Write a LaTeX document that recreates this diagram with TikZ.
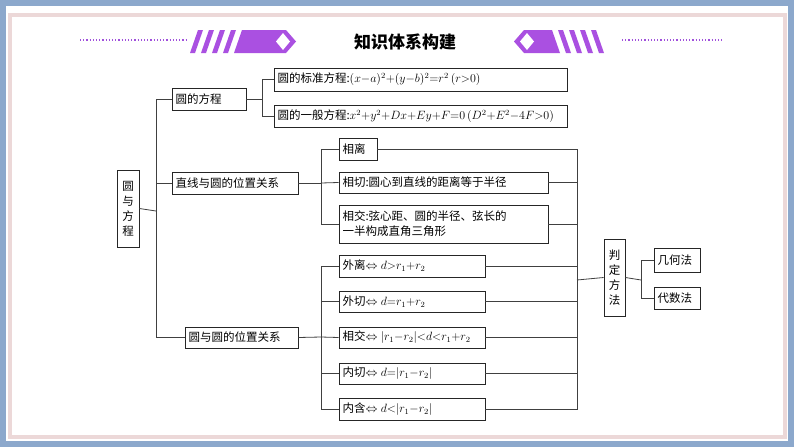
\documentclass[tikz,border=0pt]{standalone}
\usepackage{fontspec}
\newfontfamily\cjk{Noto Sans CJK SC}
\definecolor{pur}{RGB}{170,80,225}
\definecolor{purd}{RGB}{160,80,220}
\definecolor{frameblue}{RGB}{140,168,204}
\definecolor{framepink}{RGB}{236,216,216}
\begin{document}
\begin{tikzpicture}[x=1pt,y=-1pt,
  box/.style={draw=black!85,line width=0.8pt,inner sep=0pt,font=\cjk\fontsize{11.5}{15}\selectfont,align=left},
  ln/.style={draw=black!75,line width=0.8pt}]
\useasboundingbox (0,0) rectangle (794,447);
\fill[white] (0,0) rectangle (794,447);
\draw[line width=6pt,draw=frameblue] (3,3) rectangle (791,444);
\draw[line width=4pt,draw=framepink] (10,15) rectangle (785,437);
\newcommand\mybox[6]{\node[box,minimum width={(#4-#2)*1pt},minimum height={(#5-#3)*1pt},text width={(#4-#2-7)*1pt}] (#1) at ({(#2+#4)/2},{(#3+#5)/2}) {#6};}
\newcommand\vertbox[6]{\node[box,align=center,minimum width={(#4-#2)*1pt},minimum height={(#5-#3)*1pt}] (#1) at ({(#2+#4)/2},{(#3+#5)/2}) {#6};}
% header
\draw[dotted,line width=1.2pt,draw=purd] (80,40) -- (188,40);
\draw[dotted,line width=1.2pt,draw=purd] (622,40) -- (724,40);
\foreach \i in {0,1,2,3}{
 \fill[pur] ({190+\i*11},53) -- ({198+\i*11},30) -- ({203+\i*11},30) -- ({195+\i*11},53) -- cycle;
 \fill[pur] ({604-\i*11},53) -- ({596-\i*11},30) -- ({591-\i*11},30) -- ({599-\i*11},53) -- cycle;}
\fill[pur] (234,53) -- (242,30) -- (286,30) -- (296,41.5) -- (286,53) -- cycle;
\fill[white] (276,41.5) -- (283,33) -- (290,41.5) -- (283,50) -- cycle;
\fill[pur] (560,53) -- (552,30) -- (524,30) -- (514,41.5) -- (524,53) -- cycle;
\fill[white] (534,41.5) -- (527,33) -- (520,41.5) -- (527,50) -- cycle;
\node[font=\cjk\bfseries\fontsize{17}{20}\selectfont] (title) at (405,42) {知识体系构建};
% boxes
\vertbox{root}{117}{170}{139}{247}{圆\\与\\方\\程}
\mybox{yfc}{172}{88}{246}{110}{圆的方程}
\mybox{std}{274}{68}{567}{91}{圆的标准方程:$(x{-}a)^2{+}(y{-}b)^2{=}r^2\,(r{>}0)$}
\mybox{gen}{274}{105}{567}{127}{圆的一般方程:$x^2{+}y^2{+}Dx{+}Ey{+}F{=}0\,(D^2{+}E^2{-}4F{>}0)$}
\mybox{lc}{172}{172}{298}{194}{直线与圆的位置关系}
\mybox{cc}{185}{327}{298}{348}{圆与圆的位置关系}
\mybox{lx}{339}{138}{377}{160}{相离}
\mybox{lq}{339}{172}{548}{193}{相切:圆心到直线的距离等于半径}
\mybox{lj}{339}{205}{548}{243}{相交:弦心距、圆的半径、弦长的\\一半构成直角三角形}
\mybox{c1}{339}{255}{485}{277}{外离$\Leftrightarrow d{>}r_1{+}r_2$}
\mybox{c2}{339}{291}{485}{312}{外切$\Leftrightarrow d{=}r_1{+}r_2$}
\mybox{c3}{339}{327}{485}{348}{相交$\Leftrightarrow |r_1{-}r_2|{<}d{<}r_1{+}r_2$}
\mybox{c4}{339}{363}{485}{384}{内切$\Leftrightarrow d{=}|r_1{-}r_2|$}
\mybox{c5}{339}{398}{485}{420}{内含$\Leftrightarrow d{<}|r_1{-}r_2|$}
\vertbox{pd}{604}{239}{625}{316}{判\\定\\方\\法}
\mybox{jh}{654}{248}{700}{272}{几何法}
\mybox{ds}{654}{287}{700}{309}{代数法}
% connectors
\coordinate (m0) at (156,211);
\draw[ln] (root.east) -- (m0);
\draw[ln] (yfc.west) -| (m0);
\draw[ln] (lc.west) -| (m0);
\draw[ln] (cc.west) -| (m0);
\coordinate (j1) at (262,99);
\draw[ln] (yfc.east) -- (j1);
\draw[ln] (std.west) -| (j1);
\draw[ln] (gen.west) -| (j1);
\coordinate (j2) at (321,183);
\draw[ln] (lc.east) -- (j2);
\draw[ln] (lx.west) -| (j2);
\draw[ln] (lq.west) -- (j2);
\draw[ln] (lj.west) -| (j2);
\coordinate (j3) at (321,337);
\draw[ln] (cc.east) -- (j3);
\foreach \n in {c1,c2,c4,c5}{\draw[ln] (\n.west) -| (j3);}
\draw[ln] (c3.west) -- (j3);
\coordinate (j4) at (577,280);
\draw[ln] (lx.east) -| (j4);
\foreach \n in {lq,lj,c1,c2,c3,c4,c5}{\draw[ln] (\n.east) -| (j4);}
\draw[ln] (j4) -- (pd.west);
\coordinate (j5) at (641,280);
\draw[ln] (pd.east) -- (j5);
\draw[ln] (jh.west) -| (j5);
\draw[ln] (ds.west) -| (j5);
\end{tikzpicture}
\end{document}
